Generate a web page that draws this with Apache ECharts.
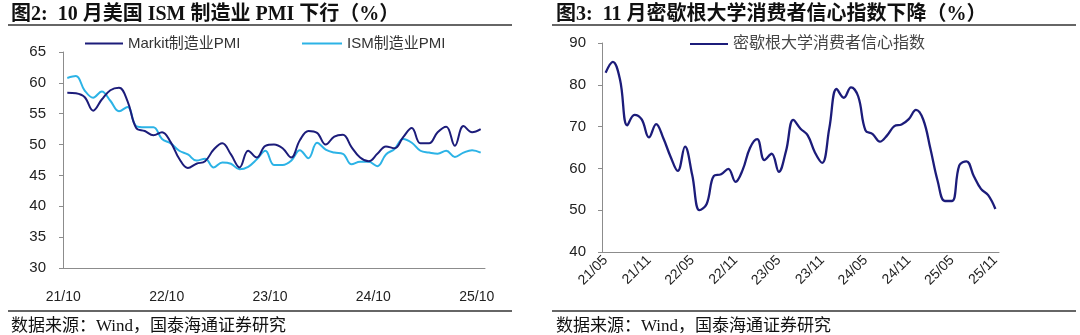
<!DOCTYPE html>
<html><head><meta charset="utf-8">
<script src="https://cdn.jsdelivr.net/npm/echarts@6/dist/echarts.min.js"></script>
<style>html,body{margin:0;padding:0;background:#fff}#c{width:1080px;height:335px}</style>
</head><body><div id="c"></div>
<script>
// Left chart: months 21/10 .. 25/10
const pmiMonths = ["21/10","21/11","21/12","22/01","22/02","22/03","22/04","22/05","22/06","22/07","22/08","22/09",
"22/10","22/11","22/12","23/01","23/02","23/03","23/04","23/05","23/06","23/07","23/08","23/09",
"23/10","23/11","23/12","24/01","24/02","24/03","24/04","24/05","24/06","24/07","24/08","24/09",
"24/10","24/11","24/12","25/01","25/02","25/03","25/04","25/05","25/06","25/07","25/08","25/09","25/10"];
const markitPMI = [58.4,58.3,57.7,55.5,57.3,58.8,59.2,57.0,52.7,52.2,51.5,52.0,
50.4,47.7,46.2,46.9,47.3,49.2,50.2,48.4,46.3,49.0,47.9,49.8,
50.0,49.4,47.9,50.7,52.2,51.9,50.0,51.3,51.6,49.6,47.9,47.3,
48.5,49.7,49.4,51.2,52.7,50.2,50.2,52.0,52.9,49.8,53.0,52.0,52.5];
const ismPMI = [60.8,61.1,58.8,57.6,58.6,57.1,55.4,56.1,53.0,52.8,52.8,50.9,
50.2,49.0,48.4,47.4,47.7,46.3,47.1,46.9,46.0,46.4,47.6,49.0,
46.7,46.7,47.4,49.1,47.8,50.3,49.2,48.7,48.5,46.8,47.2,47.2,
46.5,48.4,49.3,50.9,50.3,49.0,48.7,48.5,49.0,48.0,48.7,49.1,48.7];
// Right chart: months 21/05 .. 25/11
const umMonths = ["21/05","21/06","21/07","21/08","21/09","21/10","21/11","21/12",
"22/01","22/02","22/03","22/04","22/05","22/06","22/07","22/08","22/09","22/10","22/11","22/12",
"23/01","23/02","23/03","23/04","23/05","23/06","23/07","23/08","23/09","23/10","23/11","23/12",
"24/01","24/02","24/03","24/04","24/05","24/06","24/07","24/08","24/09","24/10","24/11","24/12",
"25/01","25/02","25/03","25/04","25/05","25/06","25/07","25/08","25/09","25/10","25/11"];
const umSentiment = [82.9,85.5,81.2,70.3,72.8,71.7,67.4,70.6,
67.2,62.8,59.4,65.2,58.4,50.0,51.5,58.2,58.6,59.9,56.8,59.7,
64.9,67.0,62.0,63.5,59.2,64.2,71.6,69.5,67.9,63.8,61.3,69.7,
79.0,76.9,79.4,77.2,69.1,68.2,66.4,67.9,70.1,70.5,71.8,74.0,
71.7,64.7,57.0,52.2,52.2,60.7,61.7,58.2,55.1,53.6,50.3];

const leftTicks = [30,35,40,45,50,55,60,65];
const rightTicks = [40,50,60,70,80,90];

const NAVY = '#1c1c7a', SKY = '#2cb3e6';
const serifCJK = '"Liberation Serif","Noto Sans CJK SC",serif';
const sansCJK = '"Liberation Sans","Noto Sans CJK SC",sans-serif';
const axisCommon = {
  axisLine:{lineStyle:{color:'#8c8c8c',width:1}},
  axisTick:{lineStyle:{color:'#8c8c8c'},length:4},
  splitLine:{show:false},
  axisLabel:{color:'#222',fontFamily:sansCJK,fontSize:14}
};
const chart = echarts.init(document.getElementById('c'), null, {renderer:'canvas'});
chart.setOption({
  animation:false,
  backgroundColor:'#fff',
  title:[
    {text:'图2:  10 月美国 ISM 制造业 PMI 下行（%）',left:6,top:0,textStyle:{fontFamily:serifCJK,fontWeight:'bold',fontSize:20,color:'#111'}},
    {text:'图3:  11 月密歇根大学消费者信心指数下降（%）',left:551,top:0,textStyle:{fontFamily:serifCJK,fontWeight:'bold',fontSize:20,color:'#111'}},
    {text:'数据来源：Wind，国泰海通证券研究',left:6,top:313,textStyle:{fontFamily:serifCJK,fontWeight:'normal',fontSize:17,color:'#111'}},
    {text:'数据来源：Wind，国泰海通证券研究',left:551,top:313,textStyle:{fontFamily:serifCJK,fontWeight:'normal',fontSize:17,color:'#111'}}
  ],
  graphic:[
    {type:'line',shape:{x1:8,y1:25,x2:512,y2:25},style:{stroke:'#333',lineWidth:1.5}},
    {type:'line',shape:{x1:552,y1:25,x2:1076,y2:25},style:{stroke:'#333',lineWidth:1.5}},
    {type:'line',shape:{x1:8,y1:311,x2:512,y2:311},style:{stroke:'#333',lineWidth:1.5}},
    {type:'line',shape:{x1:552,y1:311,x2:1076,y2:311},style:{stroke:'#333',lineWidth:1.5}}
  ],
  legend:[
    {data:['Markit制造业PMI'],left:80,top:31,icon:'rect',itemWidth:38,itemHeight:2,itemGap:0,textStyle:{fontFamily:sansCJK,fontSize:15,color:'#333'}},
    {data:['ISM制造业PMI'],left:297,top:31,icon:'rect',itemWidth:40,itemHeight:2,itemGap:0,textStyle:{fontFamily:sansCJK,fontSize:15,color:'#333'}},
    {data:['密歇根大学消费者信心指数'],left:685,top:31,icon:'rect',itemWidth:38,itemHeight:2,itemGap:0,textStyle:{fontFamily:serifCJK,fontSize:16,color:'#444'}}
  ],
  grid:[
    {left:63,right:595,top:52,bottom:67,containLabel:false},
    {left:602,right:81,top:43,bottom:83,containLabel:false}
  ],
  xAxis:[
    Object.assign({},axisCommon,{type:'category',gridIndex:0,data:pmiMonths,boundaryGap:true,
      axisLabel:Object.assign({},axisCommon.axisLabel,{interval:11,margin:22,padding:[0,8,0,0]}),axisTick:Object.assign({},axisCommon.axisTick,{interval:11})}),
    Object.assign({},axisCommon,{type:'category',gridIndex:1,data:umMonths,boundaryGap:true,
      axisLabel:Object.assign({},axisCommon.axisLabel,{interval:5,rotate:45,margin:6,fontSize:14}),axisTick:Object.assign({},axisCommon.axisTick,{interval:5})})
  ],
  yAxis:[
    Object.assign({},axisCommon,{type:'value',gridIndex:0,min:leftTicks[0],max:leftTicks[leftTicks.length-1],interval:5,
      axisLine:{show:true,lineStyle:{color:'#8c8c8c'}},axisTick:{show:true,length:4,lineStyle:{color:'#8c8c8c'}},
      axisLabel:Object.assign({},axisCommon.axisLabel,{margin:17,fontSize:15})}),
    Object.assign({},axisCommon,{type:'value',gridIndex:1,min:rightTicks[0],max:rightTicks[rightTicks.length-1],interval:10,
      axisLine:{show:true,lineStyle:{color:'#8c8c8c'}},axisTick:{show:true,length:4,lineStyle:{color:'#8c8c8c'}},
      axisLabel:Object.assign({},axisCommon.axisLabel,{margin:16,fontSize:15})})
  ],
  series:[
    {name:'Markit制造业PMI',type:'line',xAxisIndex:0,yAxisIndex:0,data:markitPMI,smooth:0.4,showSymbol:false,
      lineStyle:{color:NAVY,width:2},itemStyle:{color:NAVY},z:3},
    {name:'ISM制造业PMI',type:'line',xAxisIndex:0,yAxisIndex:0,data:ismPMI,smooth:0.4,showSymbol:false,
      lineStyle:{color:SKY,width:2},itemStyle:{color:SKY},z:2},
    {name:'密歇根大学消费者信心指数',type:'line',xAxisIndex:1,yAxisIndex:1,data:umSentiment,smooth:0.4,showSymbol:false,
      lineStyle:{color:NAVY,width:2.3},itemStyle:{color:NAVY}}
  ]
});
</script></body></html>
